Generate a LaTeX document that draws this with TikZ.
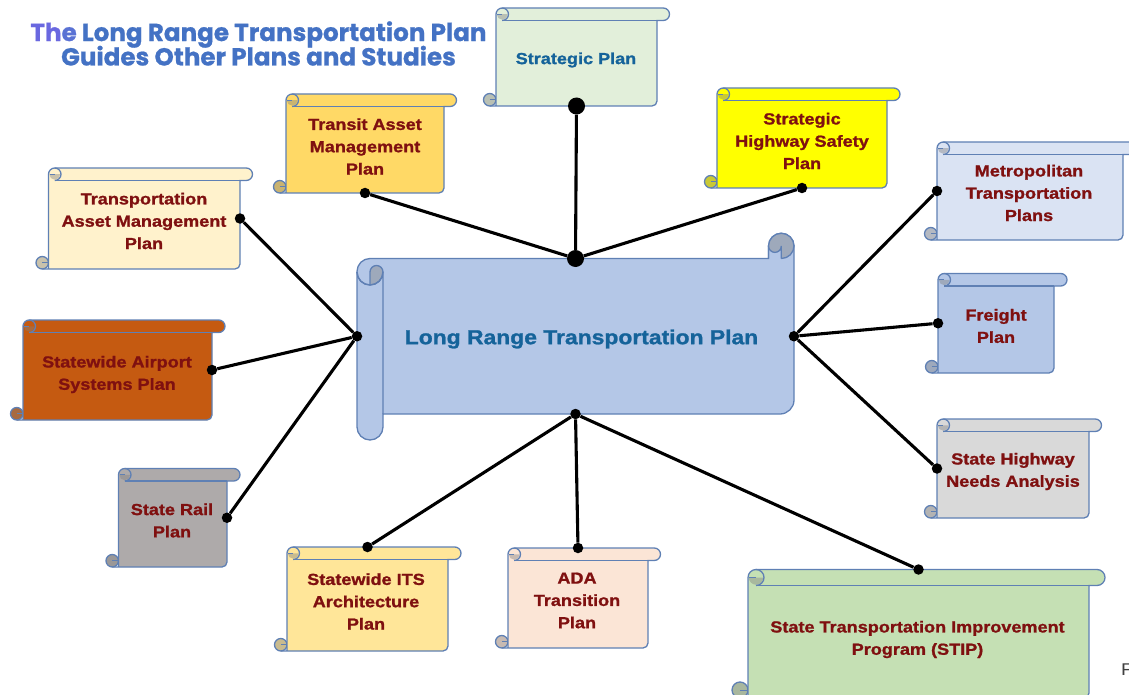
\documentclass[tikz,border=0pt]{standalone}
\usepackage{fontspec}
\newfontfamily\labelfont[FakeStretch=1.13,BoldFeatures={FakeBold=1.2}]{Liberation Sans}
\newfontfamily\titlefont[BoldFeatures={FakeBold=0.8}]{Poppins}
\definecolor{maroon}{HTML}{7F1010}
\definecolor{lrblue}{HTML}{15639A}
\definecolor{edge}{HTML}{5F80B4}
\definecolor{titleblue}{HTML}{4472C4}
\definecolor{lrfill}{HTML}{B4C7E7}
\definecolor{spfill}{HTML}{E2EFDA}
\definecolor{tapfill}{HTML}{FFD966}
\definecolor{tamfill}{HTML}{FFF2CC}
\definecolor{mtpfill}{HTML}{DAE3F3}
\definecolor{shnafill}{HTML}{D9D9D9}
\definecolor{airfill}{HTML}{C55A11}
\definecolor{railfill}{HTML}{AEAAAA}
\definecolor{itsfill}{HTML}{FFE699}
\definecolor{adafill}{HTML}{FBE5D6}
\definecolor{stipfill}{HTML}{C5E0B4}
\definecolor{shspfill}{HTML}{FFFF00}
\tikzset{
  frame/.style={inner sep=0pt,outer sep=0pt},
  scrollline/.style={draw=edge,line width=1.3pt},
  lbl/.style={font=\labelfont\bfseries\fontsize{16}{22.3}\selectfont,text=maroon,align=center,inner sep=0pt},
  link/.style={draw=black,line width=3.1pt},
  dot/.style={circle,fill=black,inner sep=0pt,minimum size=10.5pt},
  bigdot/.style={circle,fill=black,inner sep=0pt,minimum size=17pt},
}
% name, L, T, R, RR, B, roll height, colour
\newcommand{\scrollbox}[8]{%
  \pgfmathsetmacro{\rr}{#7/2}
  \pgfmathsetmacro{\cx}{#2+\rr}
  \pgfmathsetmacro{\cy}{#3+\rr}
  \pgfmathsetmacro{\rb}{#3+#7}
  \pgfmathsetmacro{\ex}{#5-\rr}
  \pgfmathsetmacro{\bc}{#6-\rr}
  \pgfmathsetmacro{\lc}{#2-\rr}
  \pgfmathsetmacro{\brx}{#6-5}
  \pgfmathsetmacro{\wid}{#4-#2}
  \pgfmathsetmacro{\hei}{#6-#3}
  \pgfmathsetmacro{\mx}{(#2+#4)/2}
  \pgfmathsetmacro{\my}{(#3+#6)/2}
  \draw[scrollline,fill=#8!58!gray] (\lc,\bc) circle[radius=\rr];
  \draw[scrollline,fill=#8] (\cx,#3) -- (\ex,#3) arc[start angle=270,end angle=450,radius=\rr]
    -- (#4,\rb) -- (#4,\brx) arc[start angle=0,end angle=90,radius=5]
    -- (\lc,#6) -- (#2,#6) -- (#2,\cy) arc[start angle=180,end angle=270,radius=\rr] -- cycle;
  \draw[scrollline] (\cx,\rb) -- (#4,\rb);
  \fill[#8!58!gray] (#2+0.8,\cy) arc[start angle=180,end angle=0,radius=\rr-0.8] -- cycle;
  \draw[scrollline] (\cx,#3) arc[start angle=270,end angle=450,radius=\rr];
  \draw[scrollline,line width=0.9pt] (#2+1,\cy) -- (\cx,\cy);
  \draw[scrollline,line width=0.9pt] (\lc,\bc) -- (#2,\bc);
  \node[frame,minimum width=\wid pt,minimum height=\hei pt] (#1) at (\mx,\my) {};
}
\begin{document}
\begin{tikzpicture}[x=1pt,y=1pt,yscale=-1]
\useasboundingbox (0,0) rectangle (1129,695);
\clip (0,0) rectangle (1129,695);

% title
\node[font=\titlefont\bfseries\fontsize{24.6}{23}\selectfont,text=titleblue,align=center,inner sep=0pt] (title) at (258.5,43.5)
  {\textcolor[HTML]{6A68E0}{Th}\textcolor[HTML]{5A72D4}{e} Long Range Transportation Plan\\[-3pt]Guides Other Plans and Studies};

% central scroll
\draw[draw=edge,line width=1.3pt,fill=lrfill] (383,414) -- (780,414) arc[start angle=90,end angle=0,radius=14]
  -- (794,246) arc[start angle=360,end angle=180,radius=12.75] -- (768.5,258.5)
  -- (370,258.5) arc[start angle=270,end angle=180,radius=13] -- (357,427)
  arc[start angle=180,end angle=0,radius=13] -- cycle;
% left curl
\fill[lrfill!58!gray] (370,284.5) -- (370,272) arc[start angle=180,end angle=360,radius=6.5] arc[start angle=0,end angle=90,radius=13] -- cycle;
\draw[draw=edge,line width=1.3pt] (383,414) -- (383,272) arc[start angle=0,end angle=180,radius=13];
\draw[draw=edge,line width=1.3pt] (357,272) arc[start angle=180,end angle=0,radius=13];
\draw[draw=edge,line width=1.3pt] (370,284.5) -- (370,272) arc[start angle=180,end angle=360,radius=6.5];
% right curl
\fill[lrfill!58!gray] (768.5,246) arc[start angle=180,end angle=360,radius=12.75] arc[start angle=0,end angle=90,radius=12.7] -- (781.3,246) arc[start angle=0,end angle=180,radius=6.4] -- cycle;
\draw[draw=edge,line width=1.3pt] (781.3,258.5) -- (781.3,246) arc[start angle=0,end angle=180,radius=6.4];
\draw[draw=edge,line width=1.3pt] (781.3,258.5) arc[start angle=90,end angle=0,radius=12.7];
\draw[draw=edge,line width=1.3pt] (768.5,258.5) -- (768.5,246) arc[start angle=180,end angle=360,radius=12.75];
\node[frame,minimum width=437pt,minimum height=155.5pt] (lrtp) at (575.5,336.25) {};
\node[lbl,text=lrblue,font=\labelfont\bfseries\fontsize{20.25}{24}\selectfont] (lrtpText) at (581.5,339) {Long Range Transportation Plan};

% satellite scrolls
\scrollbox{sp}{496}{8}{657}{669.5}{106}{12.5}{spfill}
\node[lbl,text=lrblue] (spText) at (576,60) {Strategic Plan};
\scrollbox{shsp}{717}{88}{887}{900}{188}{12.5}{shspfill}
\node[lbl] (shspText) at (802,141) {Strategic\\Highway Safety\\Plan};
\scrollbox{tamp}{286}{94}{444}{456.5}{193}{12.5}{tapfill}
\node[lbl] (tampText) at (365,146.5) {Transit Asset\\Management\\Plan};
\scrollbox{asset}{48.5}{168}{240}{252.5}{269}{12.5}{tamfill}
\node[lbl] (assetText) at (144,221) {Transportation\\Asset Management\\Plan};
\scrollbox{mtp}{937}{142}{1123}{1135}{240}{12.5}{mtpfill}
\node[lbl] (mtpText) at (1029,193) {Metropolitan\\Transportation\\Plans};
\scrollbox{freight}{938}{273.5}{1054}{1067}{373}{12.5}{lrfill}
\node[lbl] (freightText) at (996,326) {Freight\\Plan};
\scrollbox{shna}{937}{419}{1089}{1101.5}{518}{12.5}{shnafill}
\node[lbl] (shnaText) at (1013,471.5) {State Highway\\Needs Analysis};
\scrollbox{air}{23}{320}{212}{225}{420}{12.5}{airfill}
\node[lbl] (airText) at (117,374.5) {Statewide Airport\\Systems Plan};
\scrollbox{rail}{118.5}{468.5}{227}{240}{567}{12.5}{railfill}
\node[lbl] (railText) at (172,520.5) {State Rail\\Plan};
\scrollbox{its}{287}{547}{448}{461}{651}{12.5}{itsfill}
\node[lbl] (itsText) at (366,601.5) {Statewide ITS\\Architecture\\Plan};
\scrollbox{ada}{508}{548}{648}{660.5}{648}{12.5}{adafill}
\node[lbl] (adaText) at (577,600.5) {ADA\\Transition\\Plan};
\scrollbox{stip}{748}{569.5}{1089}{1105}{698}{16}{stipfill}
\node[lbl] (stipText) at (917.5,639.5) {State Transportation Improvement\\Program (STIP)};

% hubs and end points
\node[bigdot] (hubN) at (lrtp.north) {};
\node[dot] (hubS) at (lrtp.south) {};
\node[dot] (hubW) at (lrtp.west) {};
\node[dot] (hubE) at (lrtp.east) {};
\node[bigdot] (dsp) at (sp.south) {};
\node[dot] (dshsp) at (shsp.south) {};
\node[dot] (dtamp) at (tamp.south) {};
\node[dot] (dasset) at (asset.east) {};
\node[dot] (dmtp) at (mtp.west) {};
\node[dot] (dfreight) at (freight.west) {};
\node[dot] (dshna) at (shna.west) {};
\node[dot] (dair) at (air.east) {};
\node[dot] (drail) at (rail.east) {};
\node[dot] (dits) at (its.north) {};
\node[dot] (dada) at (ada.north) {};
\node[dot] (dstip) at (stip.north) {};

\draw[link] (hubN) -- (dsp);
\draw[link] (hubN) -- (dshsp);
\draw[link] (hubN) -- (dtamp);
\draw[link] (hubW) -- (dasset);
\draw[link] (hubW) -- (dair);
\draw[link] (hubW) -- (drail);
\draw[link] (hubE) -- (dmtp);
\draw[link] (hubE) -- (dfreight);
\draw[link] (hubE) -- (dshna);
\draw[link] (hubS) -- (dits);
\draw[link] (hubS) -- (dada);
\draw[link] (hubS) -- (dstip);

\node[font=\labelfont\fontsize{17}{20}\selectfont,text=black!75,inner sep=0pt,anchor=west] (clipF) at (1121,670) {F};
\end{tikzpicture}
\end{document}
